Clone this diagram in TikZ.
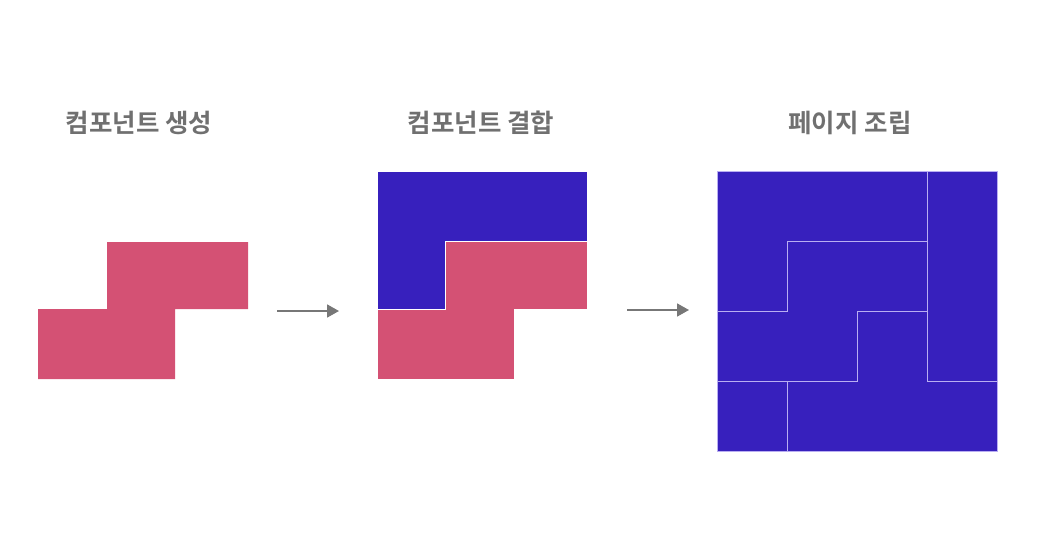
\documentclass[tikz,border=0pt]{standalone}
\usepackage{fontspec}
\newfontfamily\kr{Noto Sans CJK KR Bold}
\usetikzlibrary{arrows.meta}
\definecolor{pinkc}{HTML}{D45174}
\definecolor{bluec}{HTML}{3720BD}
\definecolor{edgec}{HTML}{B9AEF2}
\definecolor{titlec}{HTML}{707070}
\definecolor{arrowc}{HTML}{777777}
\tikzset{
  title/.style={font=\kr\fontsize{25.5}{30}\selectfont, text=titlec, inner sep=0pt},
  pinkpiece/.style={fill=pinkc, draw=white, line width=0.6pt, line join=miter},
  bluepiece/.style={fill=bluec, draw=edgec, line width=0.9pt, line join=miter},
  flow/.style={draw=arrowc, line width=1.8pt, -{Triangle[length=12pt,width=13pt]}}
}
\begin{document}
\begin{tikzpicture}[x=1pt,y=-1pt]
\useasboundingbox (0,0) rectangle (1043,559);
% titles
\node[title] (t1) at (139,123) {컴포넌트 생성};
\node[title] (t2) at (481,123) {컴포넌트 결합};
\node[title] (t3) at (850,123) {페이지 조립};
% panel 1
\fill[pinkc] (107,242) -- (248,242) -- (248,309) -- (175,309) -- (175,379) -- (38,379) -- (38,309) -- (107,309) -- cycle;
% panel 2
\draw[pinkpiece] (445,241) -- (587,241) -- (587,309) -- (514,309) -- (514,379) -- (377,379) -- (377,309) -- (445,309) -- cycle;
\draw[fill=bluec, draw=white, line width=0.6pt] (377,171) -- (587,171) -- (587,241) -- (445,241) -- (445,309) -- (377,309) -- cycle;
% panel 3
\draw[bluepiece] (717,171) -- (927,171) -- (927,241) -- (787,241) -- (787,311) -- (717,311) -- cycle;
\draw[bluepiece] (927,171) -- (997,171) -- (997,381) -- (927,381) -- cycle;
\draw[bluepiece] (787,241) -- (927,241) -- (927,311) -- (857,311) -- (857,381) -- (717,381) -- (717,311) -- (787,311) -- cycle;
\draw[bluepiece] (857,311) -- (927,311) -- (927,381) -- (997,381) -- (997,451) -- (787,451) -- (787,381) -- (857,381) -- cycle;
\draw[bluepiece] (717,381) -- (787,381) -- (787,451) -- (717,451) -- cycle;
% arrows
\coordinate (a1s) at (277,311);
\coordinate (a1e) at (339,311);
\coordinate (a2s) at (627,310);
\coordinate (a2e) at (689,310);
\draw[flow] (a1s) -- (a1e);
\draw[flow] (a2s) -- (a2e);
\end{tikzpicture}
\end{document}
